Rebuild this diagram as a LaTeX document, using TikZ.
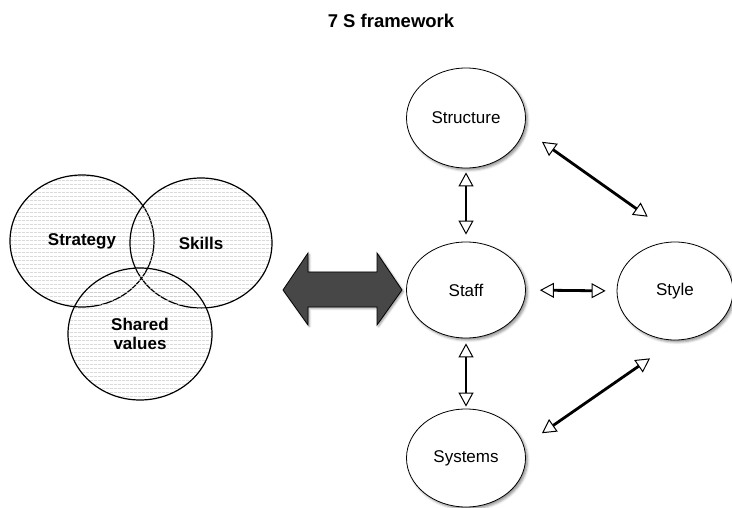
\documentclass[tikz,border=0pt]{standalone}
\usepackage{fontspec}
\setmainfont{Liberation Sans}
\usetikzlibrary{arrows.meta,shapes.geometric,shadows.blur,patterns.meta}

\tikzstyle{oval} = [draw, ellipse, line width=0.8pt, fill=white,
    minimum width=119pt, minimum height=98pt,
    font=\fontsize{17}{19}\selectfont,
    blur shadow={shadow xshift=2pt, shadow yshift=-2pt, shadow blur radius=2.5pt, shadow opacity=45}]
\tikzstyle{venn} = [draw, ellipse, line width=1.2pt, inner sep=0pt,
    minimum width=144pt, minimum height=132pt, align=center,
    font=\fontsize{17}{19}\selectfont\bfseries,
    pattern={Lines[angle=0,distance=4pt,line width=0.5pt]}, pattern color=black!22]
\tikzstyle{link} = [{Triangle[open,length=14pt,width=15pt,line width=1pt]}-{Triangle[open,length=14pt,width=15pt,line width=1pt]},
    line width=2.8pt]

\begin{document}
\begin{tikzpicture}[x=1pt,y=-1pt]
    \useasboundingbox (0,0) rectangle (732,508);
    % title
    \node[font=\fontsize{18.5}{20}\selectfont\bfseries] (title) at (391,21) {7 S framework};
    % draw the three circles
    \node[venn] (strategy) at (82,241) {Strategy};
    \node[venn, minimum width=142pt, minimum height=130pt] (skills) at (201,243) {Skills};
    \node[venn] (shared) at (140,334) {Shared\\values};
    % draw big arrow
    \draw[line width=0.8pt, fill=black!72,
        blur shadow={shadow xshift=1.5pt, shadow yshift=-1.5pt, shadow blur radius=2pt, shadow opacity=40}]
        (283,290) -- (308,253) -- (308,272) -- (377,272) -- (377,253) -- (402,290)
        -- (377,325) -- (377,307) -- (308,307) -- (308,325) -- cycle;
    % draw ellipse nodes
    \node[oval, minimum height=100pt] (structure) at (466,118) {Structure};
    \node[oval, minimum height=96pt] (staff) at (466,290) {Staff};
    \node[oval, minimum width=116pt] (style) at (675,291) {Style};
    \node[oval] (systems) at (466,458) {Systems};
    % Draw edges
    \draw[link, shorten <=4pt, shorten >=7pt] (structure.south) -- (staff.north);
    \draw[link, shorten <=5pt, shorten >=2pt] (staff.south) -- (systems.north);
    \draw[link, shorten <=14pt, shorten >=11pt] (staff.east) -- (style.west);
    \draw[link, shorten <=21.6pt, shorten >=44pt] (structure.-11) -- (style.80);
    \draw[link, shorten <=21.8pt, shorten >=31.5pt] (systems.12) -- (style.-89);
\end{tikzpicture}
\end{document}
